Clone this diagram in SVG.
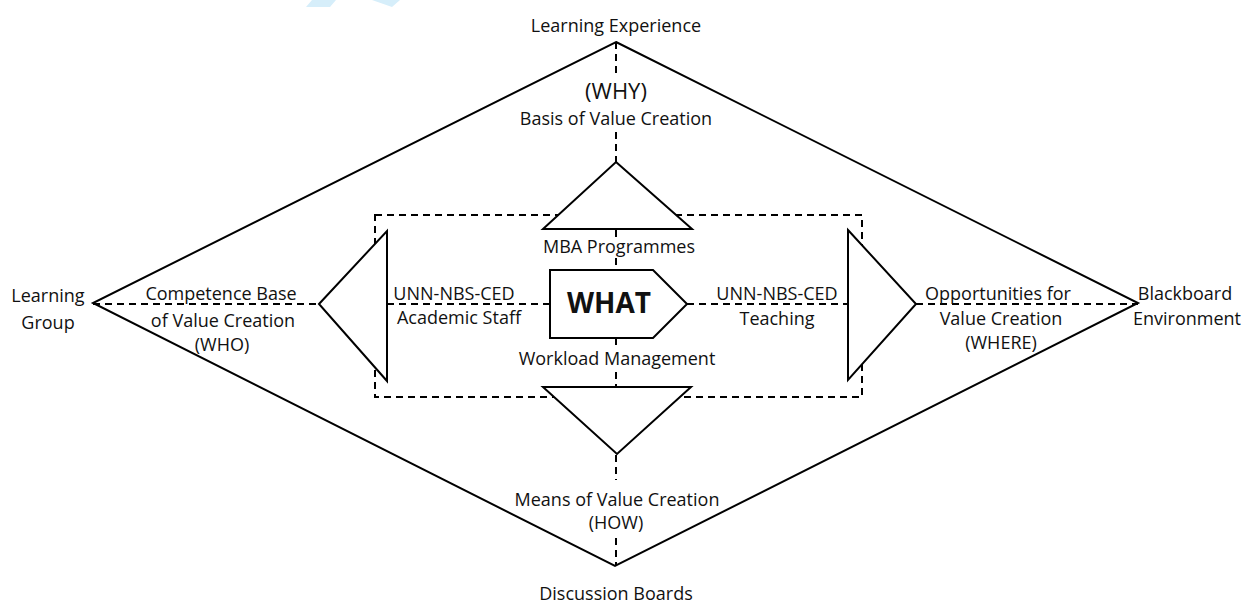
<svg xmlns="http://www.w3.org/2000/svg" width="1248" height="603" viewBox="0 0 1248 603">
<style>
.solid{fill:none;stroke:#000;stroke-width:2;stroke-linejoin:miter}
.shape{fill:#fff;stroke:#000;stroke-width:2}
.dash{fill:none;stroke:#000;stroke-width:2;stroke-dasharray:7 5}
text{font-family:"Open Sans","Liberation Sans",sans-serif;font-size:18px;fill:#111;text-anchor:middle}
.big{font-size:28px;font-weight:bold}
.mid{font-size:22px}
</style>
<rect width="1248" height="603" fill="#fff"/>
<g id="watermark" fill="#d6eefa">
<polygon points="312,0 336,0 330,7 306,7"/>
<polygon points="372,0 400,0 392,7"/>
</g>
<g id="connectors">
<polygon class="solid" points="616,42 1138,303 615,566 93,303"/>
<rect class="dash" x="375" y="215" width="487" height="182"/>
<line class="dash" x1="616" y1="42" x2="616" y2="73"/>
<line class="dash" x1="616" y1="132" x2="616" y2="162"/>
<line class="dash" x1="616" y1="230" x2="616" y2="238"/>
<line class="dash" x1="616" y1="258" x2="616" y2="270"/>
<line class="dash" x1="616" y1="338" x2="616" y2="346"/>
<line class="dash" x1="616" y1="372" x2="616" y2="387"/>
<line class="dash" x1="616" y1="455" x2="616" y2="480"/>
<line class="dash" x1="616" y1="538" x2="616" y2="566"/>
<line class="dash" x1="93" y1="304" x2="319" y2="304"/>
<line class="dash" x1="387" y1="304" x2="550" y2="304"/>
<line class="dash" x1="687" y1="304" x2="848" y2="304"/>
<line class="dash" x1="916" y1="304" x2="1138" y2="304"/>
</g>
<g id="node-why">
<polygon class="shape" points="616,162 692,229 543,229"/>
<text class="mid" x="616" y="99">(WHY)</text>
<text x="616" y="125">Basis of Value Creation</text>
</g>
<g id="node-how">
<polygon class="shape" points="543,387 691,387 617,454"/>
<text x="617" y="506">Means of Value Creation</text>
<text x="616" y="529">(HOW)</text>
</g>
<g id="node-who">
<polygon class="shape" points="319,304 387,231 387,381"/>
<text x="221" y="300">Competence Base</text>
<text x="223" y="327">of Value Creation</text>
<text x="222" y="351">(WHO)</text>
</g>
<g id="node-where">
<polygon class="shape" points="848,230 916,304 848,380"/>
<text x="998" y="300">Opportunities for</text>
<text x="1001" y="325">Value Creation</text>
<text x="1001" y="349">(WHERE)</text>
</g>
<g id="node-what">
<polygon class="shape" points="550,270 653,270 687,304 653,338 550,338"/>
<text class="big" x="609" y="313">WHAT</text>
</g>
<g id="labels">
<text x="616" y="32">Learning Experience</text>
<text x="616" y="600">Discussion Boards</text>
<text x="48" y="302">Learning</text>
<text x="48" y="329">Group</text>
<text x="1185" y="300">Blackboard</text>
<text x="1187" y="325">Environment</text>
<text x="619" y="253">MBA Programmes</text>
<text x="617" y="365">Workload Management</text>
<text x="454" y="300">UNN-NBS-CED</text>
<text x="459" y="324">Academic Staff</text>
<text x="777" y="300">UNN-NBS-CED</text>
<text x="777" y="325">Teaching</text>
</g>
</svg>
